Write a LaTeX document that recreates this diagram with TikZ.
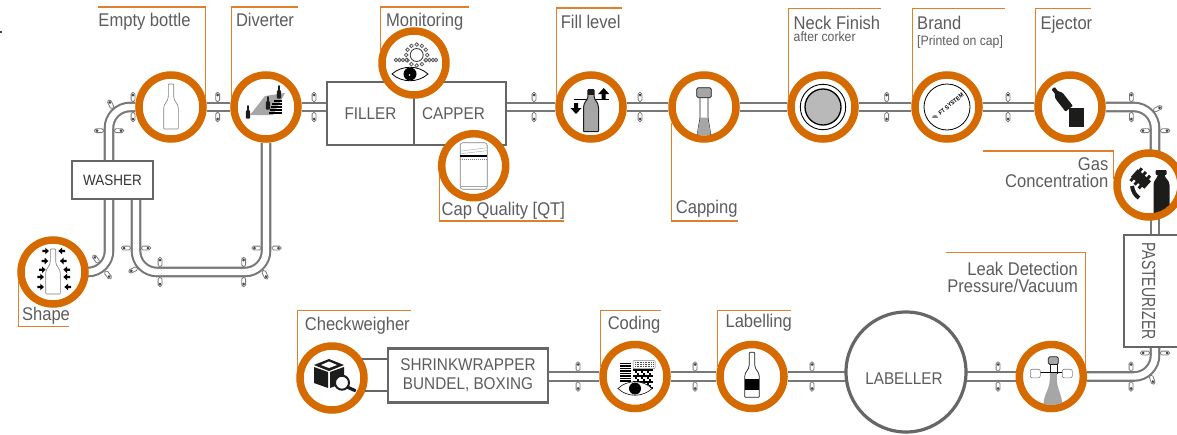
\documentclass[tikz,border=0pt]{standalone}
\usepackage{fontspec}
\setmainfont{Liberation Sans}[FakeStretch=.9]
\newfontfamily\tallfont{Liberation Sans}[FakeStretch=.74]
\usetikzlibrary{positioning, backgrounds}

\definecolor{ringorange}{HTML}{D46A00}
\definecolor{leaderorange}{HTML}{E0802C}
\definecolor{railgray}{HTML}{787878}
\definecolor{boxgray}{HTML}{666666}
\definecolor{textgray}{HTML}{5C5C5C}
\definecolor{knobdark}{HTML}{444444}
\definecolor{liquidgray}{HTML}{A6A6A6}
\definecolor{iconblack}{HTML}{1C1C1A}

\newcommand{\knobshape}{%
  \draw[draw=railgray, fill=white, line width=.8pt, rounded corners=1.6pt] (-1.9,-14.6) rectangle (1.9,-5.4);
  \fill[knobdark] (0,-12) circle (1.5pt);}

\tikzset{
  station/.style={circle, draw=ringorange, line width=7.5pt, fill=white, minimum size=64pt, inner sep=0pt},
  machine/.style={draw=boxgray, line width=2.5pt, fill=white, outer sep=0pt, text=textgray, align=center, font=\fontsize{17}{19}\selectfont},
  rail/.style={draw=railgray, line width=2.1pt, double=white, double distance=6.4pt},
  railbend/.style={rail, rounded corners=21pt},
  leader/.style={draw=leaderorange, line width=1.2pt},
  steptag/.style={text=textgray, inner sep=0pt, text height=13pt, text depth=4pt, font=\fontsize{18.4}{18}\selectfont},
  subtag/.style={text=textgray, inner sep=0pt, text height=10pt, text depth=3pt, font=\fontsize{13.6}{13}\selectfont},
  thinicon/.style={draw=gray, fill=white, line width=.6pt},
  bottleicon/.pic={\path[pic actions, rounded corners=.8pt] (-2.7,-23) -- (2.7,-23) -- (2.7,-11)
    .. controls (3,-5) and (7.3,-4) .. (7.3,2) -- (7.3,22) -- (-7.3,22) -- (-7.3,2)
    .. controls (-7.3,-4) and (-3,-5) .. (-2.7,-11) -- cycle;},
  stubbyicon/.pic={\path[pic actions, rounded corners=.8pt] (-3.2,-18) -- (3.2,-18) -- (3.2,-11)
    .. controls (3.5,-7) and (7.5,-6) .. (7.5,1) -- (7.5,24) -- (-7.5,24) -- (-7.5,1)
    .. controls (-7.5,-6) and (-3.5,-7) .. (-3.2,-11) -- cycle;},
  eyeicon/.pic={\path[pic actions] (-18,0) .. controls (-8,-9) and (8,-9) .. (18,0)
    .. controls (8,9) and (-8,9) .. (-18,0) -- cycle;},
  fatarrow/.pic={\fill[black] (-2,5) -- (-2,0) -- (-5.5,0) -- (0,-6) -- (5.5,0) -- (2,0) -- (2,5) -- cycle;},
  railknob/.pic={\knobshape},
  railclip/.pic={\knobshape \begin{scope}[rotate=180]\knobshape\end{scope}},
}

\begin{document}
\begin{tikzpicture}[x=1pt, y=-1pt]
  \useasboundingbox (0,0) rectangle (1177,434);

  \node[station] (bottleck) at (171,107) {};
  \node[station, node distance=95pt, right of=bottleck] (diverter) {};
  \node[station] (shapeck) at (53,272) {};
  \node[machine, minimum width=81pt, minimum height=38pt, font=\fontsize{15}{17}\selectfont, text=black!80] (washer) at (112.5,180) {WASHER};
  \node[machine, minimum width=87pt, minimum height=63pt] (filler) at (370.5,113.5) {FILLER};
  \node[machine, right=0pt of filler, minimum height=63pt, inner xsep=8pt, text width=76pt, align=left] (capper) {CAPPER};
  \node[station] (monitor) at (414,63) {};
  \node[station] (capq) at (473.7,165.7) {};
  \node[station] (filllevel) at (591,107) {};
  \node[station, node distance=113pt, right of=filllevel] (capping) {};
  \node[station, node distance=119pt, right of=capping] (neck) {};
  \node[station, node distance=124pt, right of=neck] (brand) {};
  \node[station, node distance=123pt, right of=brand] (ejector) {};
  \node[station] (gas) at (1149,185) {};
  \node[machine, minimum width=112pt, minimum height=56pt, rotate=-90, text height=19.6pt, text depth=0pt, inner ysep=0pt, font=\tallfont\fontsize{19}{20}\selectfont] (pasteurizer) at (1152,291) {PASTEURIZER};
  \node[station] (leak) at (1051.3,376.5) {};
  \node[machine, circle, minimum size=120pt, line width=3.2pt, inner sep=0pt] (labeller) at (906,372) {};
  \node[station] (labelling) at (752,376.5) {};
  \node[station, node distance=117pt, left of=labelling] (coding) {};
  \node[machine, minimum width=160pt, minimum height=54pt, inner sep=0pt] (shrink) at (468,375.5) {SHRINKWRAPPER\\BUNDEL, BOXING};
  \node[station] (checkw) at (332,378) {};

  \node[steptag, font=\fontsize{17}{17}\selectfont] (labellertext) at (904,379.5) {LABELLER};

  \coordinate (washerin) at (109,199);
  \coordinate (washerout) at (109,160);
  \coordinate (washerback) at (136,199);
  \coordinate (loopcorner) at (136,272);
  \coordinate (gasin) at (1155,165);
  \coordinate (gasout) at (1155,205);

  \begin{scope}[on background layer]
    \draw[railbend] (shapeck) -| (washerin);
    \draw[railbend] (washerout) |- (bottleck);
    \draw[railbend] (diverter) |- (loopcorner) -- (washerback);
    \draw[rail] (bottleck) -- (diverter);
    \draw[rail] (diverter) -- (diverter -| filler.west);
    \draw[rail] (filllevel -| capper.east) -- (filllevel);
    \draw[rail] (filllevel) -- (capping);
    \draw[rail] (capping) -- (neck);
    \draw[rail] (neck) -- (brand);
    \draw[rail] (brand) -- (ejector);
    \draw[railbend] (ejector) -| (gasin);
    \draw[rail] (gasout) -- (gasout |- pasteurizer.west);
    \draw[railbend] (leak) -| (gasout |- pasteurizer.east);
    \draw[rail] (labelling -| labeller) -- (leak);
    \draw[rail] (labelling) -- (labelling -| labeller);
    \draw[rail] (coding) -- (labelling);
    \draw[rail] (coding -| shrink.east) -- (coding);
  \end{scope}
  \draw[machine] (checkw.32) -- (checkw.32 -| shrink.west);
  \draw[machine] (checkw.-21) -- (checkw.-21 -| shrink.west);

  \foreach \kx/\ky in {217.7/107, 314/107, 133/107, 534/107, 640/107, 886.7/107, 1008/107, 1131.3/107, 160/272, 243.7/272, 578/376.5, 695/376.5, 812/376.5, 998/376.5, 1131/376.5}
    \pic at (\kx,\ky) {railclip};
  \foreach \kx/\ky in {109/130.7, 136/248, 266.5/248, 1155/130.7, 1155/353}
    \pic[rotate=90] at (\kx,\ky) {railclip};
  \pic[rotate=37] at (102,267) {railclip};
  \pic[rotate=27] at (115.2,113.2) {railknob};
  \pic[rotate=115] at (142.2,265.8) {railknob};
  \pic[rotate=206] at (260.8,265.8) {railknob};
  \pic[rotate=-63] at (1148.8,113.2) {railknob};
  \pic[rotate=200] at (1148.8,370.3) {railknob};

  \foreach \st/\x/\y/\a in {bottleck/98/7/15, diverter/297.5/7/165, monitor/468.7/7/160, filllevel/621.7/8/165,
      neck/881/8.3/165, brand/1005/8.3/165, ejector/1091/8.3/165, capping/738/221/206, capq/563.7/221/195,
      gas/983.3/151/170, shapeck/69.3/326.7/195, checkw/410.7/310.3/165, coding/661/310.3/165,
      labelling/791/310.3/165, leak/945.7/252.7/15}{
    \coordinate (tag\st) at (\x,\y);
    \draw[leader] (tag\st) -| (\st.\a);
  }

  \node[steptag] (tbottle) at (144.5,21.5) {Empty bottle};
  \node[steptag] (tdiverter) at (265,21.5) {Diverter};
  \node[steptag] (tmonitor) at (424.7,21.5) {Monitoring};
  \node[steptag] (tfill) at (590.7,24) {Fill level};
  \node[steptag] (tcapping) at (706.7,209) {Capping};
  \node[steptag] (tcapq) at (503.3,210.5) {Cap Quality [QT]};
  \node[steptag, anchor=west] (tneck) at (793.5,24.5) {Neck Finish};
  \node[subtag, anchor=west] (tneck2) at (793.5,38.2) {after corker};
  \node[steptag, anchor=west] (tbrand) at (917,24.5) {Brand};
  \node[subtag, anchor=west] (tbrand2) at (917,42.2) {[Printed on cap]};
  \node[steptag, anchor=west] (tejector) at (1040.5,24.5) {Ejector};
  \node[steptag, anchor=east] (tgas) at (1108.5,165.5) {Gas};
  \node[steptag, anchor=east] (tgas2) at (1108.5,182.8) {Concentration};
  \node[steptag] (tshape) at (46,316.2) {Shape};
  \node[steptag] (tcheck) at (357.3,325.5) {Checkweigher};
  \node[steptag] (tcoding) at (634,325) {Coding};
  \node[steptag] (tlabelling) at (758.7,323) {Labelling};
  \node[steptag, anchor=east] (tleak) at (1078,271) {Leak Detection};
  \node[steptag, anchor=east] (tleak2) at (1078,288) {Pressure/Vacuum};

  \pic[thinicon] at (bottleck) {bottleicon};

  \begin{scope}[shift={(shapeck)}]
    \pic[thinicon] at (0,0) {bottleicon};
    \foreach \ax/\ay/\bx in {-7.7/-21/9, -8.3/-11/10.5, -11/-2.3/14, -12.7/5/14, -12.7/15/15}{
      \pic[rotate=-90, scale=.6] at (\ax,\ay) {fatarrow};
      \pic[rotate=90, scale=.6] at (\bx,\ay) {fatarrow};
    }
  \end{scope}

  \begin{scope}[shift={(diverter)}]
    \fill[liquidgray] (-16,8) -- (-1,-11) -- (19,-14) -- (7,8) -- cycle;
    \foreach \sy/\sx in {-6/8, -3/6, 0/5, 3/4, 6/3}
      \draw[black, line width=1.5pt] (\sx,\sy) -- (16,\sy);
    \pic[fill=iconblack, scale=.3] at (-18,5) {bottleicon};
    \pic[fill=iconblack, scale=.3] at (2,-4) {bottleicon};
    \pic[fill=iconblack, scale=.3] at (13,-15) {bottleicon};
  \end{scope}

  \begin{scope}[shift={(monitor)}]
    \foreach \ang in {0,30,...,330}
      \draw[black!65, fill=white, line width=.8pt] (2.7,-8) ++(\ang:10.5pt) circle (1.8pt);
    \foreach \bx in {-18,-14.5,-11,-7.5, 12, 15.5, 19, 22}
      \draw[black!65, fill=white, line width=.8pt] (\bx,-3) circle (1.7pt);
    \draw[black!80, fill=white, line width=.8pt] (2.7,-8) circle (6.5pt);
    \pic[draw=black, fill=white, line width=.8pt] at (-4,11) {eyeicon};
    \fill[black] (-4,11) circle (6.5pt);
    \fill[white] (-4.5,12) circle (.9pt);
  \end{scope}

  \begin{scope}[shift={(capq)}]
    \draw[thinicon, rounded corners=2.5pt] (-13.5,-23) rectangle (13.5,23.5);
    \draw[gray!70, line width=.4pt] (-13.5,-12) -- (13.5,-15);
    \draw[gray!70, line width=.4pt] (-13.5,-14.5) -- (13.5,-18);
    \fill[black] (-13.5,-10.5) rectangle (13.5,-8.5);
    \draw[gray, line width=1pt, densely dotted] (-13.5,-6.7) -- (13.5,-6.7);
    \draw[gray!70, line width=.4pt] (-13.5,20) -- (13.5,20);
  \end{scope}

  \begin{scope}[shift={(filllevel)}]
    \draw[black, line width=.8pt] (-17,-7.7) -- (17.7,-7.7);
    \pic[draw=iconblack, fill=liquidgray, line width=1pt] at (0,0.7) {stubbyicon};
    \fill[iconblack] (-3.4,-18) rectangle (3.4,-12);
    \pic[rotate=180] at (-15,1) {fatarrow};
    \pic at (12.7,-13) {fatarrow};
  \end{scope}

  \begin{scope}[shift={(capping)}]
    \clip (0,0) circle (28.4pt);
    \draw[iconblack, fill=white, line width=.7pt] (-4,-10) -- (-4,8) .. controls (-4,16) and (-6.5,20) .. (-6.5,30)
      -- (6.5,30) .. controls (6.5,20) and (4,16) .. (4,8) -- (4,-10) -- cycle;
    \fill[liquidgray] (-4,10.7) .. controls (-4,16) and (-6.5,20) .. (-6.5,30) -- (6.5,30) .. controls (6.5,20) and (4,16) .. (4,10.7) -- cycle;
    \draw[iconblack, fill=liquidgray, line width=.7pt, rounded corners=1.5pt] (-7.3,-19.3) rectangle (7.3,-9.3);
  \end{scope}

  \begin{scope}[shift={(neck)}]
    \draw[black, line width=.9pt] (0,0) circle (22.7pt);
    \draw[black, fill=gray!55, line width=1.3pt] (0,0) circle (18pt);
  \end{scope}

  \begin{scope}[shift={(brand)}]
    \draw[black, line width=.8pt] (0,0) circle (23pt);
    \node[rotate=39, inner sep=0pt, text=black, font=\fontsize{6}{6}\bfseries\selectfont] (ftlogo) at (4,-3) {FT SYSTEM};
    \fill[gray] (-15,11) .. controls (-15,7) and (-9,7) .. (-9,11) -- cycle;
  \end{scope}

  \begin{scope}[shift={(ejector)}]
    \pic[fill=iconblack, scale=.62, rotate=38] at (-10,-10) {stubbyicon};
    \fill[iconblack] (-1,0.7) rectangle (14,20);
  \end{scope}

  \begin{scope}[shift={(gas)}]
    \clip (0,0) circle (28.4pt);
    \fill[iconblack, rounded corners=1pt] (6.7,-15) rectangle (17.7,-10);
    \fill[iconblack] (9,-10.5) .. controls (8,-6) and (4.5,-5) .. (4.5,0) -- (4.5,32) -- (20.5,32) -- (20.5,0)
      .. controls (20.5,-5) and (16,-6) .. (15.5,-10.5) -- cycle;
    \draw[iconblack, line width=4pt] (-17,1) .. controls (-16,7) and (-14,10) .. (-10,13);
    \begin{scope}[shift={(-8,-6)}, rotate=-42]
      \fill[iconblack] (-9,-5) rectangle (9,5);
      \foreach \tx in {-8,-2.5,3}{
        \fill[iconblack] (\tx,-8.5) rectangle (\tx+3,8.5);
      }
    \end{scope}
  \end{scope}

  \begin{scope}[shift={(checkw)}]
    \fill[iconblack] (-18,-13) -- (-3,-19) -- (12,-13) -- (-3,-7) -- cycle;
    \fill[white] (-11,-13) -- (-3,-16.5) -- (5,-13) -- (-3,-10) -- cycle;
    \fill[iconblack] (-18,-11) -- (-4,-6) -- (-4,10) -- (-18,5) -- cycle;
    \fill[iconblack] (-2,-6) -- (12,-11) -- (12,5) -- (-2,10) -- cycle;
    \draw[iconblack, line width=3.2pt, line cap=round] (15,9) -- (23,12.5);
    \draw[iconblack, fill=white, line width=2pt] (10,4.7) circle (7pt);
  \end{scope}

  \begin{scope}[shift={(coding)}]
    \clip (0,0) circle (28.4pt);
    \foreach \sy in {-14,-11.5,-9,-6.5,-4,-1.5,1,3.5}
      \fill[black] (-15,\sy) rectangle (-4,\sy+1.6);
    \draw[gray, line width=.5pt, rounded corners=.8pt] (-2,-16) rectangle (20,-8);
    \foreach \sy in {-14,-12,-10}
      \draw[black!70, line width=.6pt, densely dotted] (0,\sy) -- (18,\sy);
    \foreach \i in {0,...,9}{
      \foreach \j in {0,...,9}{
        \pgfmathtruncatemacro\qrcell{mod(\i*\i+2*\j*\j+\i*\j,3)}
        \ifnum\qrcell<2
          \fill[black] (-2+2*\i,-7.5+2*\j) rectangle ++(1.8,1.8);
        \fi
      }
    }
    \pic[draw=black, fill=white, line width=.6pt, xscale=.95] at (0,12) {eyeicon};
    \fill[black] (0,12) circle (6pt);
  \end{scope}

  \begin{scope}[shift={(labelling)}]
    \pic[draw=iconblack, fill=white, line width=.7pt] at (0,-1.2) {bottleicon};
    \fill[black] (-7.3,2.3) rectangle (7.3,13.3);
  \end{scope}

  \begin{scope}[shift={(leak)}]
    \clip (0,0) circle (28.4pt);
    \draw[iconblack, fill=white, line width=.5pt] (-1.5,-12) rectangle (5.5,-3.7);
    \fill[liquidgray] (-1.5,-3.7) -- (5.5,-3.7) -- (5.5,3) .. controls (6,14) and (11,18) .. (11,30)
      -- (-8,30) .. controls (-8,18) and (-2,14) .. (-1.5,3) -- cycle;
    \draw[iconblack, fill=liquidgray, line width=.7pt, rounded corners=1.5pt] (-3,-19.7) rectangle (7,-12);
    \draw[black, line width=.7pt] (-11,-3.7) -- (11,-3.7);
    \draw[gray, fill=white, line width=.6pt, rounded corners=2pt] (-21,-7.3) rectangle (-11,1.3);
    \draw[gray, fill=white, line width=.6pt, rounded corners=2pt] (11,-7.3) rectangle (21,1.3);
  \end{scope}

  \fill[knobdark] (0,30.5) rectangle (2,32.5);
\end{tikzpicture}
\end{document}
